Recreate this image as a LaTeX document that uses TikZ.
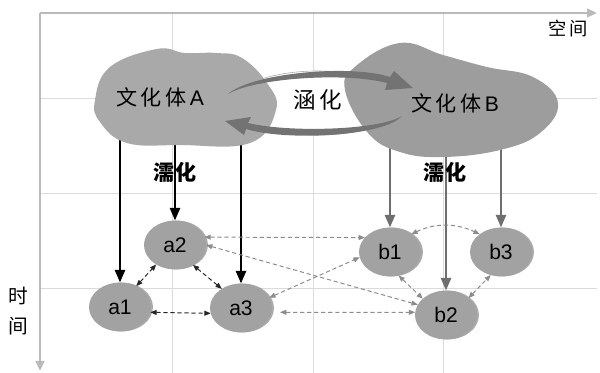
\documentclass[tikz,border=0pt]{standalone}
\usepackage{fontspec}
\setmainfont{Liberation Sans}
\newfontfamily\cjk{Noto Sans CJK SC}
\usetikzlibrary{arrows.meta, positioning, shapes.geometric, shadows}
\definecolor{yunA}{HTML}{A9A9A9}
\definecolor{yunB}{HTML}{9D9D9D}
\definecolor{dianhui}{HTML}{A2A2A2}
\definecolor{jianhui}{HTML}{6E6E6E}
\definecolor{xuhui}{HTML}{8C8C8C}

\begin{document}
\begin{tikzpicture}[x=0.025cm, y=-0.025cm,
    wangge/.style={draw=black!14, line width=0.5pt},
    zhou/.style={draw=black!27, line width=2pt, -{Triangle[length=7pt,width=6pt]}},
    wenhua/.style={ellipse, fill=dianhui, minimum width=1.55cm, minimum height=1.22cm,
        inner sep=0pt, outer sep=0pt, font=\fontsize{15}{17}\selectfont,
        drop shadow={shadow xshift=1.4pt, shadow yshift=0pt, fill=black!55, opacity=0.6}},
    jianA/.style={draw=black, line width=2pt, -{Triangle[length=9pt,width=7pt]}},
    jianB/.style={draw=jianhui, line width=2pt, -{Triangle[length=9pt,width=7pt]}},
    xu/.style={dash pattern=on 3pt off 2pt, line width=0.7pt,
        {Triangle[length=4.5pt,width=3.5pt]}-{Triangle[length=4.5pt,width=3.5pt]}},
    heixu/.style={xu, draw=black!85},
    huixu/.style={xu, draw=xuhui}]
    \useasboundingbox (0,0) rectangle (600,373);

    % 网格与坐标轴
    \foreach \gx in {172,313,443} \draw[wangge] (\gx,13) -- (\gx,373);
    \foreach \gy in {98,193,288} \draw[wangge] (40,\gy) -- (597,\gy);
    \coordinate (O) at (40,13);
    \coordinate (xend) at (597,13);
    \coordinate (yend) at (40,371);
    \draw[zhou] (O) -- (xend);
    \draw[zhou] (O) -- (yend);
    \node[font=\cjk\fontsize{13}{15}\selectfont] (kongjian) at (568,29) {空\,间};
    \node[font=\cjk\fontsize{14}{21}\selectfont, align=center] (shijian) at (18,311) {时\\间};

    % 文化单元
    \node[wenhua] (a2) at (175,245) {a2};
    \node[wenhua] (a1) at (120,307) {a1};
    \node[wenhua] (a3) at (241,308) {a3};
    \node[wenhua] (b1) at (390,252) {b1};
    \node[wenhua] (b3) at (501,252) {b3};
    \node[wenhua] (b2) at (446,315) {b2};

    % 濡化箭头（起点藏在云团下面）
    \coordinate (Adi) at (0,125);
    \coordinate (Bdi) at (0,130);
    \foreach \n in {a1,a2,a3} \draw[jianA] (\n |- Adi) -- (\n);
    \foreach \n in {b1,b2,b3} \draw[jianB] (\n |- Bdi) -- (\n);

    % 涵化椭圆
    \node[ellipse, draw=black!35, fill=white, minimum width=4.25cm, minimum height=1.6cm]
        (huan) at (318,103) {};

    % 两个文化体
    \fill[yunA] plot[smooth cycle, tension=0.7] coordinates {(95,100) (110,67) (157,49)
        (185,53) (217,53) (242,58) (267,83) (276,110) (250,143) (180,145) (127,143) (100,122)};
    \fill[yunB] plot[smooth cycle, tension=0.7] coordinates {(345,90) (356,66) (400,43)
        (443,55) (487,67) (533,77) (558,103) (540,133) (500,150) (443,157) (400,152) (368,133)};
    \node[font=\fontsize{15}{17}\selectfont] (A) at (160,97) {{\cjk 文\,化\,体}\,A};
    \node[font=\fontsize{15}{17}\selectfont] (B) at (455,103) {{\cjk 文\,化\,体}\,B};

    % 涵化的两条弯箭头
    \fill[black!55] (228,94) .. controls (252,73) and (350,64) .. (390,77) -- (394,71)
        -- (413,88) -- (385,90) -- (387,83) .. controls (345,72) and (255,78) .. cycle;
    \fill[black!55] (402,116) .. controls (383,137) and (285,141) .. (246,129) -- (244,135)
        -- (225,121) -- (251,117) -- (248,123) .. controls (290,133) and (380,130) .. cycle;
    \node[font=\cjk\fontsize{16}{18}\selectfont] (hanhua) at (318,100) {涵\,化};

    \node[font=\cjk\bfseries\fontsize{15}{17}\selectfont] (ruA) at (175,172) {濡化};
    \node[font=\cjk\bfseries\fontsize{15}{17}\selectfont] (ruB) at (445,172) {濡化};

    % 单元之间的联系
    \draw[heixu] (a1.52) -- (a2.226);
    \draw[heixu] (a2.-48) -- (a3.135);
    \draw[heixu] (a1.-10) -- (a3.190);
    \draw[huixu] (b1.-70) -- (b2.145);
    \draw[huixu] (b2.37) -- (b3.246);
    \draw[huixu] (b1.40) to[bend left=25] (b3.140);
    \draw[huixu] (a2.15) -- (b1.150);
    \draw[huixu] (a2.0) -- (b2.160);
    \draw[huixu] (a3.20) -- (b1.190);
    \draw[huixu, shorten <=6pt] (a3.-8) -- (b2.175);
\end{tikzpicture}
\end{document}
